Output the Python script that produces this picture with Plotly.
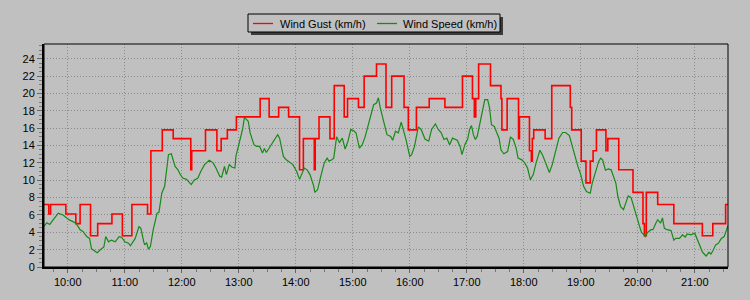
import pandas as pd
import plotly.graph_objects as go

# ---- data: minutes after 10:00, km/h ----
gust_min = [-25, -20, -18, -2, 8.5, 13, 24, 31.5, 46.5, 57.5, 67.5, 84, 87.5, 99.5, 111,
            129.5, 130.5, 145, 157, 161.5, 168, 177.5, 202.5, 212, 222, 232.5, 244, 248,
            259.5, 260.5, 264.5, 276, 280.5, 291, 294.5, 306, 312, 325, 335, 341, 354,
            358.5, 367, 380.5, 397, 415.5, 426, 428, 429.5, 432.5, 445, 456, 457, 462.5,
            474.5, 475.5, 486, 488, 489, 490.5, 502.5, 509.5, 529, 530.5, 540.5, 545.5,
            550, 553, 556.5, 566.5, 568.5, 580, 595, 605.5, 607, 609, 621, 638, 668, 679,
            692.5, 695]
gust_kmh = [7.2, 6.1, 7.2, 6.1, 5.0, 7.2, 3.6, 5.0, 6.1, 3.6, 7.2, 6.1, 13.4, 15.8, 14.8,
            11.2, 13.4, 15.8, 13.4, 14.8, 15.8, 17.3, 19.4, 17.3, 18.4, 17.3, 11.2, 14.8,
            11.2, 14.8, 17.3, 14.8, 20.9, 17.3, 19.4, 18.4, 22.0, 23.4, 18.4, 22.0, 18.4,
            15.8, 18.4, 19.4, 18.4, 22.0, 19.4, 17.3, 19.4, 23.4, 20.9, 19.4, 15.8, 19.4,
            14.8, 17.3, 13.4, 12.2, 14.8, 15.8, 14.8, 20.9, 18.4, 15.8, 12.2, 9.7,
            12.2, 13.4, 15.8, 13.4, 14.8, 11.2, 8.6, 5.0, 3.6, 8.6, 7.2, 5.0, 3.6, 5.0,
            7.2, 7.2]

speed_min = [-25, -22, -19, -10, -5, -1, 2, 6, 9, 13, 16, 20, 23, 25, 29, 31, 34, 38, 40, 43,
             46, 50, 54, 57, 60, 64, 66, 71, 75, 77, 80, 81, 83, 85, 87, 90, 94, 96, 99, 102,
             106, 109, 113, 116, 118, 121, 125, 128, 130, 133, 137, 140, 144, 149, 153, 156,
             160, 162, 165, 167, 170, 173, 176, 177, 181, 184, 186, 190, 192, 196, 199, 202,
             205, 207, 209, 212, 216, 221, 223, 227, 230, 234, 237, 241, 244, 249, 252, 255,
             259, 260, 263, 266, 270, 273, 275, 278, 280, 283, 286, 289, 292, 295, 298, 301,
             303.5, 307, 310, 313, 316, 320, 322, 325, 327, 329, 333, 336, 340, 342, 345, 348,
             351, 354, 356, 360, 362, 365, 369, 372, 376, 380, 383, 387, 390, 393, 396, 399,
             402, 405, 408, 410, 413, 415, 418, 421, 423, 425, 427, 429, 431, 434, 436, 439,
             442, 444, 446, 449, 451, 454, 456, 459, 463, 466, 469, 472, 474, 478, 481, 484,
             487, 490, 493, 497, 500, 504, 507, 510, 514, 517, 521, 524, 528, 530, 534, 537,
             540, 543, 546, 550, 552, 556, 559, 561, 563, 566, 569, 572, 574, 577, 579, 582,
             585, 587, 590, 593, 595, 598, 600, 602, 604, 606, 608, 610, 614, 616, 619, 621,
             624, 626, 628, 631, 635, 638, 640, 644, 647, 650, 652, 656, 660, 662, 665, 668,
             670, 672, 675, 677, 679, 682, 685, 688, 691, 693, 695]
speed_kmh = [4.7, 5.1, 4.9, 6.2, 6.0, 5.6, 5.4, 5.2, 5.0, 4.3, 4.1, 3.5, 3.3, 2.1, 1.85, 1.65,
             1.95, 2.3, 3.5, 2.9, 3.1, 2.9, 3.5, 3.4, 2.9, 2.75, 2.45, 3.3, 4.65, 4.45, 2.9,
             2.55, 2.8, 2.05, 2.35, 4.3, 6.2, 6.3, 8.5, 9.3, 12.95, 13.05, 11.6, 11.2, 10.75,
             10.25, 10.1, 9.7, 9.5, 10.0, 10.25, 11.0, 11.8, 12.3, 12.0, 11.4, 10.45, 10.35,
             11.6, 10.65, 11.8, 11.5, 11.4, 12.75, 14.7, 15.85, 17.25, 16.8, 15.45, 14.1, 13.9,
             13.9, 13.15, 13.65, 13.2, 13.7, 14.5, 15.25, 14.85, 12.75, 12.35, 12.0, 11.8, 11.0,
             10.1, 11.4, 11.2, 10.65, 9.3, 8.6, 8.9, 10.3, 12.0, 12.55, 12.2, 12.35, 12.55,
             15.0, 14.35, 14.85, 13.6, 14.5, 15.85, 15.7, 15.45, 13.7, 14.1, 15.0, 16.2, 17.75,
             18.7, 18.9, 19.5, 18.35, 16.6, 15.25, 15.05, 14.6, 15.65, 15.45, 16.7, 15.5, 14.7,
             12.75, 12.95, 13.9, 16.15, 15.85, 14.75, 14.5, 15.85, 16.5, 15.85, 15.5, 14.7,
             14.85, 14.1, 14.85, 14.7, 14.6, 13.9, 12.95, 14.1, 14.75, 15.85, 16.3, 15.25, 14.7,
             15.05, 16.6, 17.75, 19.3, 19.3, 18.35, 16.4, 16.2, 15.65, 14.85, 13.5, 13.05, 13.3,
             15.0, 14.7, 13.7, 12.55, 12.35, 12.0, 11.4, 10.05, 10.65, 12.0, 13.45, 12.85, 11.8,
             10.9, 11.8, 13.5, 14.85, 15.5, 15.5, 15.15, 14.3, 12.75, 11.6, 10.65, 9.3, 8.7,
             8.5, 9.65, 11.0, 12.2, 12.55, 12.35, 11.15, 11.3, 11.2, 10.65, 9.65, 8.15, 6.95,
             6.6, 7.35, 8.2, 8.0, 7.2, 6.2, 5.45, 4.65, 3.95, 3.8, 3.5, 3.95, 4.3, 4.3, 5.05,
             5.45, 5.05, 5.65, 4.45, 4.3, 4.2, 3.1, 3.3, 3.3, 3.7, 3.45, 3.8, 3.7, 3.9, 3.3,
             2.55, 1.75, 1.5, 1.25, 1.7, 1.5, 1.85, 2.55, 2.75, 3.3, 3.5, 4.1, 4.75]

series_names = ["Wind Gust (km/h)", "Wind Speed (km/h)"]
series_colors = ["#FF0000", "#178A17"]
y_ticks = list(range(0, 25, 2))

base = pd.Timestamp("2024-01-01 10:00")
gust_t = base + pd.to_timedelta(gust_min, unit="min")
speed_t = base + pd.to_timedelta(speed_min, unit="min")

BG = "#C0C0C0"
FONT = "Liberation Sans, Arial, sans-serif"

fig = go.Figure()
fig.add_trace(go.Scatter(x=gust_t, y=gust_kmh, name=series_names[0], mode="lines",
                         line=dict(color=series_colors[0], width=1.6, shape="hv")))
fig.add_trace(go.Scatter(x=speed_t, y=speed_kmh, name=series_names[1], mode="lines",
                         line=dict(color=series_colors[1], width=1.2)))

L, R, T, B = 44, 22, 44, 33
W, H = 750, 300
pw, ph = W - L - R, H - T - B

def px(x):
    return (x - L) / pw

def py(y):
    return (H - B - y) / ph

# ---- hand-drawn legend box (with drop shadow) ----
fig.add_shape(type="rect", xref="paper", yref="paper",
              x0=px(251), x1=px(503), y0=py(35), y1=py(17),
              line=dict(width=0), fillcolor="rgba(25,25,25,0.8)", layer="above")
fig.add_shape(type="rect", xref="paper", yref="paper",
              x0=px(248), x1=px(500), y0=py(32), y1=py(14),
              line=dict(color="black", width=1), fillcolor=BG, layer="above")
leg_line_x = [253, 377]
leg_text_x = [278, 401]
for i in range(len(series_names)):
    fig.add_shape(type="line", xref="paper", yref="paper",
                  x0=px(leg_line_x[i]), x1=px(leg_line_x[i] + 20),
                  y0=py(23.5), y1=py(23.5),
                  line=dict(color=series_colors[i], width=1.3), layer="above")
    fig.add_annotation(xref="paper", yref="paper", x=px(leg_text_x[i]), y=py(23.5),
                       xanchor="left", yanchor="middle", text=series_names[i],
                       showarrow=False,
                       font=dict(family=FONT, size=11, color="black"))

# frame (top/right thin)
fig.add_shape(type="rect", xref="paper", yref="paper", x0=0, x1=1, y0=0, y1=1,
              line=dict(color="black", width=1), layer="above")

fig.update_layout(
    width=W, height=H,
    margin=dict(l=L, r=R, t=T, b=B),
    paper_bgcolor=BG, plot_bgcolor=BG,
    font=dict(family=FONT, size=11, color="black"),
    showlegend=False,
    xaxis=dict(
        type="date",
        range=[base - pd.Timedelta(minutes=25), base + pd.Timedelta(minutes=695)],
        tickformat="%H:%M", dtick=3600000,
        tick0=base,
        showgrid=True, gridcolor="#8A8A8A", griddash="1px,2px", gridwidth=1,
        ticks="outside", ticklen=4, tickcolor="#666666", tickwidth=1,
        minor=dict(dtick=900000, ticks="outside", ticklen=3, tickcolor="#777777",
                   showgrid=False),
        showline=True, linecolor="black", linewidth=2,
        zeroline=False, tickfont=dict(size=11),
    ),
    yaxis=dict(
        range=[0, 25.7], tickvals=y_ticks,
        showgrid=True, gridcolor="#8A8A8A", griddash="1px,2px", gridwidth=1,
        ticks="outside", ticklen=5, tickcolor="#666666", tickwidth=1,
        minor=dict(dtick=0.5, ticks="outside", ticklen=3, tickcolor="#7a7a7a",
                   showgrid=False),
        showline=True, linecolor="black", linewidth=2,
        zeroline=False, tickfont=dict(size=11),
    ),
)

fig.write_html("out.html")
